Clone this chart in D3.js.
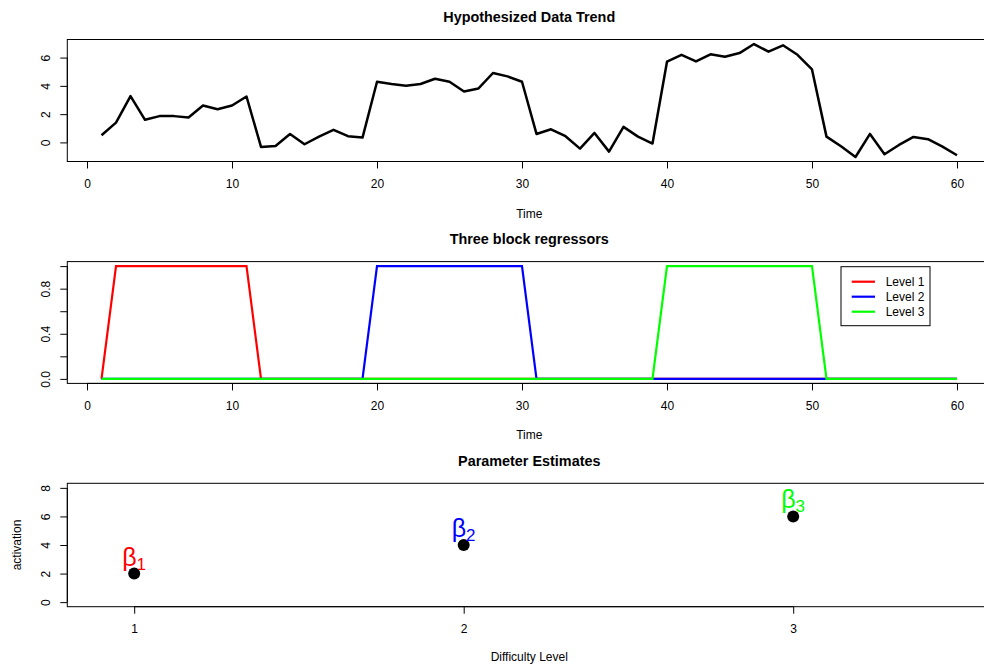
<!DOCTYPE html>
<html>
<head>
<meta charset="utf-8">
<title>Hypothesized Data Trend</title>
<script src="https://d3js.org/d3.v7.min.js"></script>
<style>
  body { margin: 0; background: #fff; }
  svg { display: block; font-family: "Liberation Sans", Arial, sans-serif; }
  .axis text { font-size: 12px; fill: #000; }
  .axis line, .axis path { stroke: #000; }
</style>
</head>
<body>
<div id="chart"></div>
<script>
// observed signal, one value per time point (1..60)
const trend = [0.51, 1.40, 3.28, 1.60, 1.86, 1.86, 1.76, 2.61, 2.35, 2.61,
               3.25, -0.32, -0.25, 0.60, -0.13, 0.41, 0.89, 0.44, 0.34, 4.29,
               4.13, 4.01, 4.13, 4.50, 4.29, 3.60, 3.82, 4.91, 4.67, 4.29,
               0.60, 0.93, 0.44, -0.44, 0.67, -0.65, 1.10, 0.41, -0.08, 5.71,
               6.20, 5.73, 6.23, 6.06, 6.32, 6.96, 6.42, 6.87, 6.20, 5.16,
               0.41, -0.27, -1.03, 0.60, -0.84, -0.18, 0.39, 0.23, -0.30, -0.91];

// block regressors
const level1 = [0,1,1,1,1,1,1,1,1,1, 1,0,0,0,0,0,0,0,0,0, 0,0,0,0,0,0,0,0,0,0,
                0,0,0,0,0,0,0,0,0,0, 0,0,0,0,0,0,0,0,0,0, 0,0,0,0,0,0,0,0,0,0];
const level2 = [0,0,0,0,0,0,0,0,0,0, 0,0,0,0,0,0,0,0,0,1, 1,1,1,1,1,1,1,1,1,1,
                0,0,0,0,0,0,0,0,0,0, 0,0,0,0,0,0,0,0,0,0, 0,0,0,0,0,0,0,0,0,0];
const level3 = [0,0,0,0,0,0,0,0,0,0, 0,0,0,0,0,0,0,0,0,0, 0,0,0,0,0,0,0,0,0,0,
                0,0,0,0,0,0,0,0,0,1, 1,1,1,1,1,1,1,1,1,1, 0,0,0,0,0,0,0,0,0,0];
const levelNames = ["Level 1", "Level 2", "Level 3"];
const levelColors = ["#ff0000", "#0000ff", "#00ff00"];

// parameter estimates
const difficulty = [1, 2, 3];
const betas = [2, 4, 6];

const timeTicks = [0, 10, 20, 30, 40, 50, 60];
const trendTicks = [0, 2, 4, 6];
const regTicks = [0, 0.2, 0.4, 0.6, 0.8, 1.0];
const regLabelled = [0, 0.4, 0.8];
const estTicks = [0, 2, 4, 6, 8];

const W = 984, H = 664;
const left = 67.3, right = 991.2;

const svg = d3.select("#chart").append("svg")
    .attr("width", W).attr("height", H);

function pad(ext) {
    const d = (ext[1] - ext[0]) * 0.04;
    return [ext[0] - d, ext[1] + d];
}

function panel(top, bottom, x, y, xTicks, yTicks, yFormat, title, xlab, ylab, xlabY) {
    const g = svg.append("g");
    // x axis
    const ax = g.append("g").attr("class", "axis")
        .attr("transform", "translate(0," + bottom + ")")
        .call(d3.axisBottom(x).tickValues(xTicks).tickFormat(d3.format("d"))
            .tickSize(7).tickPadding(11).tickSizeOuter(0));
    ax.select(".domain").remove();
    ax.append("line")
        .attr("x1", x(xTicks[0])).attr("x2", x(xTicks[xTicks.length - 1]))
        .attr("stroke", "#000");
    // y axis
    const ay = g.append("g").attr("class", "axis")
        .attr("transform", "translate(" + left + ",0)")
        .call(d3.axisLeft(y).tickValues(yTicks).tickSize(7).tickSizeOuter(0)
            .tickFormat(yFormat));
    ay.select(".domain").remove();
    ay.append("line")
        .attr("y1", y(yTicks[0])).attr("y2", y(yTicks[yTicks.length - 1]))
        .attr("stroke", "#000");
    ay.selectAll(".tick text")
        .attr("x", null).attr("dy", null)
        .attr("text-anchor", "middle")
        .attr("transform", "translate(-17.3,0) rotate(-90)");
    // box
    g.append("rect")
        .attr("x", left).attr("y", top)
        .attr("width", right - left).attr("height", bottom - top)
        .attr("fill", "none").attr("stroke", "#000");
    // title and labels
    g.append("text")
        .attr("x", (left + right) / 2).attr("y", top - 17.7)
        .attr("text-anchor", "middle")
        .style("font-size", "14.4px").style("font-weight", "bold")
        .text(title);
    g.append("text")
        .attr("x", (left + right) / 2).attr("y", xlabY || bottom + 56)
        .attr("text-anchor", "middle")
        .style("font-size", "12px")
        .text(xlab);
    if (ylab) {
        g.append("text")
            .attr("transform", "translate(21," + (top + bottom) / 2 + ") rotate(-90)")
            .attr("text-anchor", "middle")
            .style("font-size", "12px")
            .text(ylab);
    }
    return g;
}

// ---- panel 1: data trend
const x1 = d3.scaleLinear().domain(pad([1, 60])).range([left, right]);
const y1 = d3.scaleLinear().domain(pad(d3.extent(trend))).range([161.5, 39.5]);
const g1 = panel(39.5, 161.5, x1, y1, timeTicks, trendTicks, d3.format("d"),
    "Hypothesized Data Trend", "Time", null);
g1.append("path")
    .datum(trend)
    .attr("fill", "none").attr("stroke", "#000").attr("stroke-width", 2.5)
    .attr("stroke-linejoin", "round")
    .attr("d", d3.line().x((d, i) => x1(i + 1)).y(d => y1(d)));

// ---- panel 2: block regressors
const x2 = d3.scaleLinear().domain(pad([1, 60])).range([left, right]);
const y2 = d3.scaleLinear().domain(pad([0, 1])).range([383.4, 261.6]);
const g2 = panel(261.6, 383.4, x2, y2, timeTicks, regTicks,
    d => regLabelled.includes(d) ? d3.format(".1f")(d) : "",
    "Three block regressors", "Time", null);
[level1, level2, level3].forEach((s, k) => {
    g2.append("path")
        .datum(s)
        .attr("fill", "none").attr("stroke", levelColors[k]).attr("stroke-width", 2.2)
        .attr("d", d3.line().x((d, i) => x2(i + 1)).y(d => y2(d)));
});
const leg = g2.append("g").attr("transform", "translate(841,266.7)");
leg.append("rect").attr("width", 89).attr("height", 59)
    .attr("fill", "#fff").attr("stroke", "#000");
levelNames.forEach((n, k) => {
    const yy = 15 + k * 15;
    leg.append("line").attr("x1", 10.7).attr("x2", 34).attr("y1", yy).attr("y2", yy)
        .attr("stroke", levelColors[k]).attr("stroke-width", 2.2);
    leg.append("text").attr("x", 44.7).attr("y", yy).attr("dy", "0.35em")
        .style("font-size", "12px").text(n);
});

// ---- panel 3: parameter estimates
const x3 = d3.scaleLinear().domain([0.797, 3.6]).range([left, left + 2.803 * 329.5]);
const y3 = d3.scaleLinear().domain(pad([0, 8])).range([606.7, 483.3]);
const g3 = panel(483.3, 606.7, x3, y3, difficulty, estTicks, d3.format("d"),
    "Parameter Estimates", "Difficulty Level", "activation", 660.5);
g3.selectAll("circle.est")
    .data(betas)
    .enter().append("circle")
    .attr("class", "est")
    .attr("cx", (d, i) => x3(difficulty[i]))
    .attr("cy", d => y3(d))
    .attr("r", 6)
    .attr("fill", "#000");
const lab = g3.selectAll("text.beta")
    .data(betas)
    .enter().append("text")
    .attr("class", "beta")
    .attr("x", (d, i) => x3(difficulty[i]) - 12)
    .attr("y", d => y3(d) - 8)
    .attr("fill", (d, i) => levelColors[i])
    .style("font-size", "25px");
lab.append("tspan").text("β");
lab.append("tspan").attr("dy", 4).style("font-size", "17px").text((d, i) => difficulty[i]);
</script>
</body>
</html>
